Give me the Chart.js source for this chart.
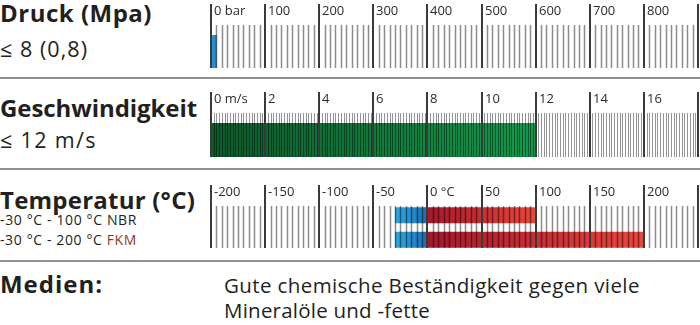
<!DOCTYPE html>
<html><head><meta charset="utf-8">
<script src="https://cdn.jsdelivr.net/npm/chart.js@4.4.1/dist/chart.umd.min.js"></script>
<style>
html,body{margin:0;padding:0;background:#fff;}
body{width:700px;height:325px;position:relative;overflow:hidden;font-family:"Open Sans",sans-serif;color:#231f20;}
canvas{position:absolute;left:0;}
.t{position:absolute;left:0;white-space:nowrap;line-height:1;}
.h{font-weight:700;font-size:24px;}
.s{font-size:21.5px;}
.m{font-size:20.5px;}
.sm{font-size:14px;}
.sep{position:absolute;left:0;width:700px;height:2px;background:#8e8e8e;}
</style></head><body>
<div class="t h" data-w="152" style="top:1px">Druck (Mpa)</div>
<div class="t s" data-w="88" style="top:38px">≤ 8 (0,8)</div>
<div class="sep" style="top:77px"></div>
<div class="t h" data-w="197" style="top:96px">Geschwindigkeit</div>
<div class="t s" data-w="97" style="top:129px">≤ 12 m/s</div>
<div class="sep" style="top:168px"></div>
<div class="t h" data-w="195" style="top:188px">Temperatur (°C)</div>
<div class="t sm" data-w="137" style="top:213px">-30 °C - 100 °C NBR</div>
<div class="t sm" data-w="137" style="top:233px">-30 °C - 200 °C <span style="color:#8a3b1f">FKM</span></div>
<div class="sep" style="top:260px"></div>
<div class="t h" data-w="103" style="top:272px">Medien:</div>
<div class="t m" data-w="416" style="top:275px;left:224px">Gute chemische Beständigkeit gegen viele</div>
<div class="t m" data-w="206" style="top:300px;left:224px">Mineralöle und -fette</div>

<canvas id="c1" width="700" height="78" style="top:0"></canvas>
<canvas id="c2" width="700" height="91" style="top:78px"></canvas>
<canvas id="c3" width="700" height="92" style="top:169px"></canvas>
<script>
// ---------- data ----------
const pressureLabels = ['0 bar','100','200','300','400','500','600','700','800',''];
const pressureAxis = [0, 900];      // bar
const pressureStep = [100, 10];     // major, minor
const pressureRange = [0, 10];      // shown bar

const speedLabels = ['0 m/s','2','4','6','8','10','12','14','16',''];
const speedAxis = [0, 18];          // m/s
const speedStep = [2, 0.1];
const speedRange = [0, 12];

const tempLabels = ['-200','-150','-100','-50','0 °C','50','100','150','200',''];
const tempAxis = [-200, 250];       // °C
const tempStep = [50, 5];
const materials = ['NBR','FKM'];
const tempMin = [-30, -30];
const tempMax = [100, 200];

// ---------- fit text widths to the reference layout ----------
function fitText(){
  document.querySelectorAll('[data-w]').forEach(el => {
    el.style.letterSpacing = '0px';
    const w = el.getBoundingClientRect().width;
    const n = el.textContent.length;
    const target = +el.dataset.w;
    el.style.letterSpacing = ((target - w) / n).toFixed(2) + 'px';
  });
}
fitText();
if (document.fonts && document.fonts.ready) document.fonts.ready.then(fitText);

// ---------- helpers ----------
function grad(c0, c1){
  return (ctx) => {
    const chart = ctx.chart, xs = chart.scales.x;
    if (!xs || ctx.type !== 'data' || !Array.isArray(ctx.raw)) return c1;
    const a = xs.getPixelForValue(ctx.raw[0]), b = xs.getPixelForValue(ctx.raw[1]);
    if (!isFinite(a) || !isFinite(b) || Math.abs(b - a) < 0.5) return c0;
    const g = chart.ctx.createLinearGradient(a, 0, b, 0);
    g.addColorStop(0, c0); g.addColorStop(1, c1);
    return g;
  };
}

const ruler = {
  id: 'ruler',
  afterDatasetsDraw(chart, args, o){
    const xs = chart.scales.x, ctx = chart.ctx;
    const bottom = o.bottom;
    ctx.save();
    const ticks = xs.ticks.map(t => t.value);
    const isMajor = v => { const q = (v - xs.min) / o.major; return Math.abs(q - Math.round(q)) < 1e-6; };
    // minor ticks
    ctx.strokeStyle = o.minorColor; ctx.lineWidth = o.minorWidth;
    ctx.beginPath();
    ticks.forEach(v => {
      if (isMajor(v)) return;
      const px = Math.round(xs.getPixelForValue(v)) + (o.minorWidth % 2 ? 0.5 : 0);
      ctx.moveTo(px, o.minorTop); ctx.lineTo(px, bottom);
    });
    ctx.stroke();
    // major ticks + labels
    ctx.strokeStyle = '#3a3a3a'; ctx.lineWidth = 2;
    ctx.fillStyle = '#2b2b2b'; ctx.font = '13px "Open Sans"'; ctx.textBaseline = 'alphabetic';
    ticks.forEach(v => {
      if (!isMajor(v)) return;
      const px = Math.round(xs.getPixelForValue(v));
      ctx.beginPath(); ctx.moveTo(px, o.majorTop); ctx.lineTo(px, bottom); ctx.stroke();
      const idx = Math.round((v - xs.min) / o.major);
      const lab = o.labels[idx];
      if (lab) ctx.fillText(lab, px + 3, o.labelY);
    });
    ctx.restore();
  }
};

function makeChart(id, cats, datasets, axis, step, labels, pad, r, barPct){
  return new Chart(document.getElementById(id), {
    type: 'bar',
    data: { labels: cats, datasets },
    options: {
      indexAxis: 'y', responsive: false, animation: false, devicePixelRatio: 1,
      layout: { padding: pad },
      datasets: { bar: { barPercentage: barPct, categoryPercentage: 1, grouped: false,
                         borderWidth: 0, borderSkipped: false } },
      scales: {
        x: { type: 'linear', display: false, min: axis[0], max: axis[1],
             ticks: { stepSize: step[1], autoSkip: false, maxTicksLimit: 1000 } },
        y: { type: 'category', display: false }
      },
      plugins: {
        legend: { display: false }, tooltip: { enabled: false },
        ruler: Object.assign({ major: step[0], labels }, r)
      }
    },
    plugins: [ruler]
  });
}

// Druck
makeChart('c1', ['Druck'],
  [{ label: 'Druck', data: [pressureRange], backgroundColor: grad('#2d9ad8', '#2582c6') }],
  pressureAxis, pressureStep, pressureLabels,
  { left: 211, right: 2, top: 35, bottom: 10 },
  { majorTop: 4, minorTop: 25, bottom: 68, labelY: 15, minorColor: 'rgba(0,0,0,0.45)', minorWidth: 1.5 }, 1);

// Geschwindigkeit
makeChart('c2', ['Geschwindigkeit'],
  [{ label: 'Geschwindigkeit', data: [speedRange], backgroundColor: grad('#0b5a2c', '#13994c') }],
  speedAxis, speedStep, speedLabels,
  { left: 211, right: 2, top: 45, bottom: 12 },
  { majorTop: 14, minorTop: 35, bottom: 79, labelY: 25, minorColor: 'rgba(0,0,0,0.42)', minorWidth: 1 }, 1);

// Temperatur
const cold = materials.map((m, i) => [tempMin[i], Math.min(0, tempMax[i])]);
const warm = materials.map((m, i) => [Math.max(0, tempMin[i]), tempMax[i]]);
makeChart('c3', materials,
  [{ label: 'unter 0 °C', data: cold, backgroundColor: grad('#2eaae4', '#1b6db4') },
   { label: 'über 0 °C', data: warm, backgroundColor: grad('#a4182d', '#ea463c') }],
  tempAxis, tempStep, tempLabels,
  { left: 211, right: 2, top: 34, bottom: 9 },
  { majorTop: 16, minorTop: 37, bottom: 79, labelY: 27, minorColor: 'rgba(0,0,0,0.45)', minorWidth: 1.5 }, 0.653);
</script>
</body></html>
